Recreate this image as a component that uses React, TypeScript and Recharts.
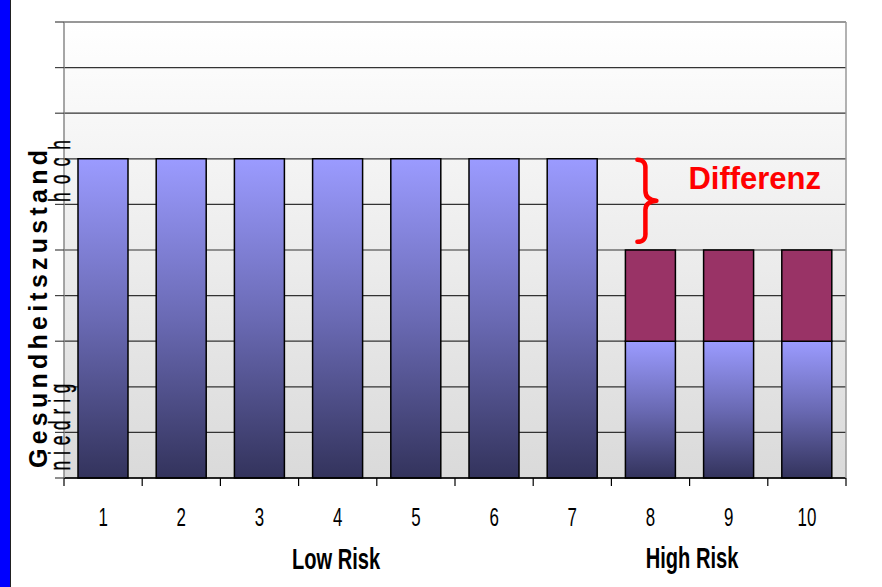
import React from 'react';
import { BarChart, Bar, XAxis, YAxis, CartesianGrid, ReferenceArea } from 'recharts';

const categories = ['1', '2', '3', '4', '5', '6', '7', '8', '9', '10'];
const baseValues = [7, 7, 7, 7, 7, 7, 7, 3, 3, 3];
const diffValues = [0, 0, 0, 0, 0, 0, 0, 2, 2, 2];
const yTicks = [0, 1, 2, 3, 4, 5, 6, 7, 8, 9, 10];
const groupLabels = ['Low Risk', 'High Risk'];
const yAxisTitle = 'Gesundheitszustand';
const yHigh = 'hoch';
const yLow = 'niedrig';
const annotation = 'Differenz';

const data = categories.map((c, i) => ({ name: c, base: baseValues[i], diff: diffValues[i] }));

const FONT = '"Liberation Sans", Arial, sans-serif';

const XTick = (props: any) => {
  const { x, y, payload, index } = props;
  const half = payload && typeof payload.offset === 'number' && payload.offset > 0 ? payload.offset : 39.1;
  return (
    <g>
      <line x1={x - half} x2={x - half} y1={y} y2={y + 8} stroke="#000" strokeWidth={1.2} />
      {index === categories.length - 1 && (
        <line x1={x + half} x2={x + half} y1={y} y2={y + 8} stroke="#000" strokeWidth={1.2} />
      )}
      <text
        transform={`translate(${x},${y + 48}) scale(0.65,1)`}
        textAnchor="middle"
        fontSize={26}
        fontFamily={FONT}
        fill="#000"
      >
        {payload.value}
      </text>
    </g>
  );
};

const YTick = (props: any) => {
  const { x, y } = props;
  return <line x1={x - 1} x2={x + 8} y1={y} y2={y} stroke="#444" strokeWidth={1.2} />;
};

const BraceShape = (props: any) => {
  const { x, y } = props;
  if (typeof x !== 'number' || typeof y !== 'number') return null;
  const ox = x + 26;
  const oy = y + 1;
  const d = `M ${ox} ${oy} Q ${ox + 9} ${oy} ${ox + 8} ${oy + 10} L ${ox + 8} ${oy + 31} Q ${ox + 8} ${oy + 40} ${ox + 19} ${oy + 41} Q ${ox + 8} ${oy + 42} ${ox + 8} ${oy + 50} L ${ox + 8} ${oy + 72} Q ${ox + 9} ${oy + 82} ${ox} ${oy + 82}`;
  return (
    <g>
      <path d={d} fill="none" stroke="#ff0000" strokeWidth={4.5} strokeLinecap="round" strokeLinejoin="round" />
      <text x={x + 77} y={y + 30} fontSize={31} fontWeight="bold" fontFamily={FONT} fill="#ff0000">
        {annotation}
      </text>
    </g>
  );
};

export default function App() {
  return (
    <div style={{ position: 'absolute', left: 0, top: 0, width: 882, height: 587, background: '#fff' }}>
      <BarChart
        width={882}
        height={587}
        data={data}
        margin={{ top: 22, right: 35, bottom: 0, left: 54 }}
        barSize={50}
      >
        <defs>
          <linearGradient id="bgGrad" x1="0" y1="0" x2="0" y2="1">
            <stop offset="0%" stopColor="#ffffff" />
            <stop offset="100%" stopColor="#dadada" />
          </linearGradient>
          <linearGradient id="blueGrad" x1="0" y1="0" x2="0" y2="1">
            <stop offset="0%" stopColor="#9b9bff" />
            <stop offset="50%" stopColor="#6a6ab4" />
            <stop offset="100%" stopColor="#33335c" />
          </linearGradient>
        </defs>
        <CartesianGrid
          xAxisId="cat"
          vertical={false}
          stroke="#333"
          strokeWidth={1.2}
          fill="url(#bgGrad)"
          fillOpacity={1}
          horizontalValues={yTicks}
        />
        <XAxis
          dataKey="name"
          xAxisId="cat"
          height={109}
          axisLine={{ stroke: '#000', strokeWidth: 1.5 }}
          tickLine={false}
          tickSize={0}
          tickMargin={0}
          interval={0}
          tick={<XTick />}
        />
        <YAxis
          domain={[0, 10]}
          ticks={yTicks}
          interval={0}
          tick={<YTick />}
          tickLine={false}
          tickSize={0}
          tickMargin={8}
          width={10}
          axisLine={{ stroke: '#888', strokeWidth: 1.5 }}
        />
        <YAxis
          yAxisId="right"
          orientation="right"
          domain={[0, 10]}
          tick={false}
          tickLine={false}
          width={1}
          axisLine={{ stroke: '#999', strokeWidth: 1.5 }}
        />
        <Bar
          dataKey="base"
          stackId="a"
          xAxisId="cat"
          fill="url(#blueGrad)"
          stroke="#000"
          strokeWidth={1.5}
          isAnimationActive={false}
        />
        <Bar
          dataKey="diff"
          stackId="a"
          xAxisId="cat"
          fill="#993366"
          stroke="#000"
          strokeWidth={1.5}
          isAnimationActive={false}
        />
        <ReferenceArea
          xAxisId="cat"
          x1="8"
          x2="8"
          y1={5}
          y2={7}
          shape={<BraceShape />}
          ifOverflow="visible"
        />
      </BarChart>
      <svg
        width={882}
        height={587}
        style={{ position: 'absolute', left: 0, top: 0, pointerEvents: 'none' }}
      >
        <rect x={0} y={0} width={10} height={587} fill="#0000ff" />
        <line x1={10.5} x2={10.5} y1={0} y2={587} stroke="#222" strokeWidth={1} />
        <text
          transform="translate(47,309) rotate(-90)"
          textAnchor="middle"
          fontSize={25}
          fontWeight="bold"
          fontFamily={FONT}
          textLength={318}
          lengthAdjust="spacing"
          fill="#000"
        >
          {yAxisTitle}
        </text>
        <text
          transform="translate(70,171) rotate(-90) scale(0.6,1)"
          textAnchor="middle"
          fontSize={29}
          fontFamily={FONT}
          textLength={103}
          lengthAdjust="spacing"
          fill="#000"
          stroke="#000"
          strokeWidth={0.4}
        >
          {yHigh}
        </text>
        <text
          transform="translate(70,427) rotate(-90) scale(0.6,1)"
          textAnchor="middle"
          fontSize={29}
          fontFamily={FONT}
          textLength={145}
          lengthAdjust="spacing"
          fill="#000"
          stroke="#000"
          strokeWidth={0.4}
        >
          {yLow}
        </text>
        <text
          transform="translate(336,569) scale(0.67,1)"
          textAnchor="middle"
          fontSize={30}
          fontWeight="bold"
          fontFamily={FONT}
          fill="#000"
        >
          {groupLabels[0]}
        </text>
        <text
          transform="translate(692,568) scale(0.67,1)"
          textAnchor="middle"
          fontSize={30}
          fontWeight="bold"
          fontFamily={FONT}
          fill="#000"
        >
          {groupLabels[1]}
        </text>
      </svg>
    </div>
  );
}
